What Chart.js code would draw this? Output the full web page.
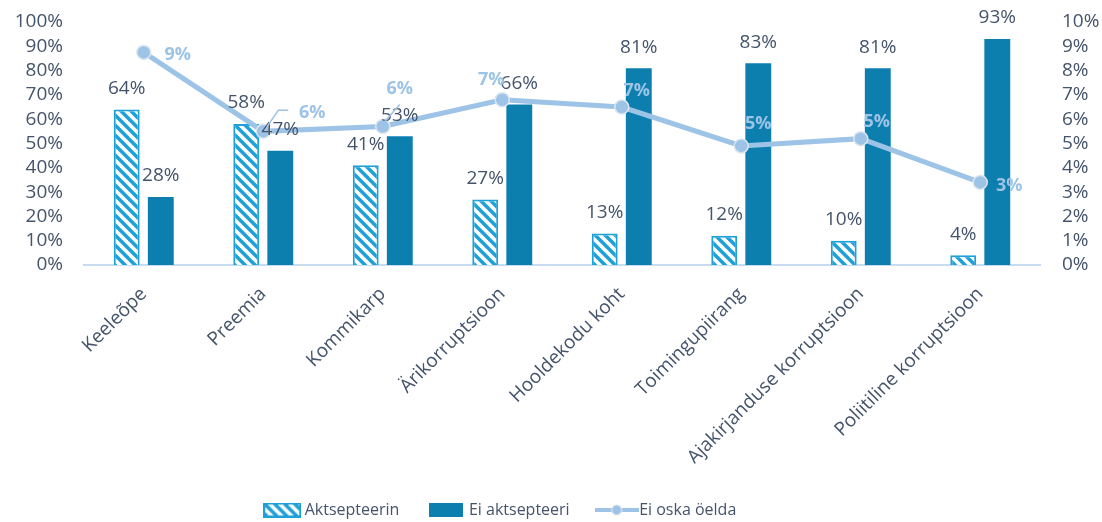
<!DOCTYPE html>
<html><head><meta charset="utf-8">
<script src="https://cdn.jsdelivr.net/npm/chart.js@4"></script>
<style>html,body{margin:0;padding:0;background:#fff;} #wrap{width:1102px;height:522px;position:relative}</style>
</head><body><div id="wrap"><canvas id="c"></canvas></div>
<script>
const categories = ['Keeleõpe','Preemia','Kommikarp','Ärikorruptsioon','Hooldekodu koht','Toimingupiirang','Ajakirjanduse korruptsioon','Poliitiline korruptsioon'];
const seriesNames = ['Aktsepteerin','Ei aktsepteeri','Ei oska öelda'];
const aktsepteerin = [64,58,41,27,13,12,10,4];
const eiAktsepteeri = [28,47,53,66,81,83,81,93];
const eiOskaOelda = [8.75,5.5,5.7,6.8,6.5,4.9,5.2,3.4];
const leftTickMax = 100, leftTickStep = 10;
const rightTickMax = 10, rightTickStep = 1;

// label placement (styling only)
const lineLabelPlacement = [
  {dx:34, dy:2},
  {dx:49, dy:-18, leader:[[4,-5],[15,-21],[25,-21]]},
  {dx:17, dy:-38, leader:[[2,-5],[17,-22]]},
  {dx:-11, dy:-20},
  {dx:15, dy:-16},
  {dx:17, dy:-22},
  {dx:16, dy:-17},
  {dx:29, dy:3}
];

const FONT = '"Open Sans", "Noto Sans", sans-serif';
const TEXT = '#44546A';
const CYAN = '#1DA1D8';
const DARK = '#0C7FAF';
const LIGHT = '#9DC3E6';

function hatchTile(){
  const s = 10, c = document.createElement('canvas');
  c.width = s; c.height = s;
  const g = c.getContext('2d');
  g.fillStyle = '#fff'; g.fillRect(0,0,s,s);
  g.strokeStyle = CYAN; g.lineWidth = 3.5;
  for (const k of [-s,0,s]) { g.beginPath(); g.moveTo(k-1,-1); g.lineTo(k+s+1,s+1); g.stroke(); }
  return c;
}
const hatch = document.createElement('canvas').getContext('2d').createPattern(hatchTile(),'repeat');

function legendHatch(){
  const c = document.createElement('canvas'); c.width = 38; c.height = 15;
  const g = c.getContext('2d');
  g.fillStyle = g.createPattern(hatchTile(),'repeat');
  g.fillRect(0,0,38,15);
  g.strokeStyle = CYAN; g.lineWidth = 2; g.strokeRect(1,1,36,13);
  return c;
}
function legendSolid(){
  const c = document.createElement('canvas'); c.width = 34; c.height = 14;
  const g = c.getContext('2d'); g.fillStyle = DARK; g.fillRect(0,0,34,14); return c;
}
function legendLine(){
  const c = document.createElement('canvas'); c.width = 44; c.height = 14;
  const g = c.getContext('2d');
  g.strokeStyle = LIGHT; g.lineWidth = 4; g.beginPath(); g.moveTo(0,7); g.lineTo(44,7); g.stroke();
  g.beginPath(); g.arc(22,7,5,0,Math.PI*2); g.fillStyle = LIGHT; g.fill();
  g.strokeStyle = '#DDE6EE'; g.lineWidth = 1.2; g.stroke();
  return c;
}
const legendMarks = [legendHatch(), legendSolid(), legendLine()];

const labelPlugin = {
  id: 'valueLabels',
  afterDatasetsDraw(chart){
    const ctx = chart.ctx;
    ctx.save();
    ctx.textAlign = 'center'; ctx.textBaseline = 'middle';
    [0,1].forEach(di => {
      const meta = chart.getDatasetMeta(di);
      ctx.font = '19px ' + FONT; ctx.fillStyle = TEXT;
      meta.data.forEach((bar,i) => {
        ctx.fillText(chart.data.datasets[di].data[i] + '%', bar.x, bar.y - 21);
      });
    });
    const lm = chart.getDatasetMeta(2);
    lm.data.forEach((pt,i) => {
      const p = lineLabelPlacement[i];
      if (p.leader){
        ctx.strokeStyle = LIGHT; ctx.lineWidth = 1.5; ctx.beginPath();
        p.leader.forEach((q,j) => j ? ctx.lineTo(pt.x+q[0], pt.y+q[1]) : ctx.moveTo(pt.x+q[0], pt.y+q[1]));
        ctx.stroke();
      }
      ctx.font = 'bold 18px ' + FONT; ctx.fillStyle = LIGHT;
      ctx.fillText(Math.round(chart.data.datasets[2].data[i]) + '%', pt.x + p.dx, pt.y + p.dy);
    });
    ctx.restore();
  }
};

const legendShift = {
  id: 'legendShift',
  afterLayout(chart){
    const lg = chart.legend; if (!lg) return;
    const dx = -49, dy = 6;
    lg.left += dx; lg.right += dx; lg.top += dy; lg.bottom += dy;
  }
};

new Chart(document.getElementById('c'), {
  data: {
    labels: categories,
    datasets: [
      {type:'bar', label: seriesNames[0], data: aktsepteerin, backgroundColor: hatch, borderColor: CYAN, borderWidth: 2, yAxisID:'y', order: 1, categoryPercentage: 0.57, barPercentage: 0.76},
      {type:'bar', label: seriesNames[1], data: eiAktsepteeri, backgroundColor: DARK, borderWidth: 0, yAxisID:'y', order: 1, categoryPercentage: 0.57, barPercentage: 0.76},
      {type:'line', label: seriesNames[2], data: eiOskaOelda, borderColor: LIGHT, borderWidth: 5, pointRadius: 7, pointBackgroundColor: LIGHT, pointBorderColor: '#DDE6EE', pointBorderWidth: 1.5, yAxisID:'y2', order: 0, tension: 0}
    ]
  },
  options: {
    responsive: true, maintainAspectRatio: false, animation: false,
    layout: { padding: { top: 22, left: 0, right: 0, bottom: 0 } },
    plugins: {
      tooltip: {enabled: false},
      legend: {
        position: 'bottom',
        labels: {
          usePointStyle: true, pointStyleWidth: 29, padding: 32.5,
          font: {family: FONT, size: 16}, color: TEXT,
          generateLabels(chart){
            return chart.data.datasets.map((d,i) => ({text: d.label, pointStyle: legendMarks[i], datasetIndex: i, fontColor: TEXT, lineWidth: 0, hidden: false}));
          }
        }
      }
    },
    scales: {
      x: {
        grid: {display: false},
        border: {display: true, color: '#C9DCEF', width: 2},
        ticks: {maxRotation: 45, minRotation: 45, font: {family: FONT, size: 19}, color: TEXT, padding: 10},
        afterFit(s){ s.paddingLeft = 0; s.paddingRight = 0; s.height = 198.5; }
      },
      y: {
        position: 'left', min: 0, max: leftTickMax,
        grid: {display: false, drawTicks: false}, border: {display: false},
        ticks: {stepSize: leftTickStep, autoSkip: false, padding: 21, font: {family: FONT, size: 19}, color: TEXT, callback: v => v + '%'},
        afterFit(s){ s.width = 84; s.paddingTop = 0; s.paddingBottom = 0; }
      },
      y2: {
        position: 'right', min: 0, max: rightTickMax,
        grid: {display: false, drawTicks: false}, border: {display: false},
        ticks: {stepSize: rightTickStep, autoSkip: false, padding: 22, font: {family: FONT, size: 19}, color: TEXT, callback: v => v + '%'},
        afterFit(s){ s.width = 62; s.paddingTop = 0; s.paddingBottom = 0; }
      }
    }
  },
  plugins: [labelPlugin, legendShift]
});
</script></body></html>
